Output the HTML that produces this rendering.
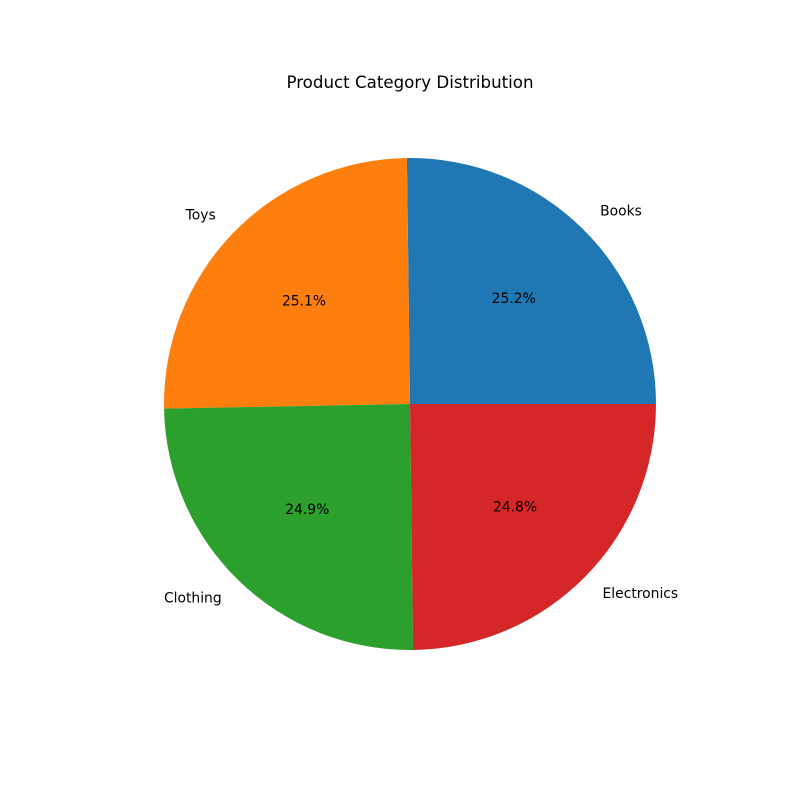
<!DOCTYPE html>
<html>
<head>
<meta charset="utf-8">
<style>
  html, body { margin: 0; padding: 0; background: #fff; }
  svg { display: block; font-family: "DejaVu Sans", "Liberation Sans", sans-serif; }
</style>
</head>
<body>
<svg id="chart" width="800" height="800" viewBox="0 0 800 800">
  <rect width="800" height="800" fill="#ffffff"></rect>
  <text x="410" y="88" text-anchor="middle" font-size="16.67" fill="#000">Product Category Distribution</text>
  <g id="slices"></g>
  <g id="labels"></g>
</svg>
<script>
const categories = ["Books", "Toys", "Clothing", "Electronics"];
const values = [25.2, 25.1, 24.9, 24.8];
const colors = ["#1f77b4", "#ff7f0e", "#2ca02c", "#d62728"];

const cx = 410, cy = 404, r = 246;
const NS = "http://www.w3.org/2000/svg";
const sliceG = document.getElementById("slices");
const labelG = document.getElementById("labels");
const total = values.reduce((a, b) => a + b, 0);
let start = 0;
function pt(angDeg, rad) {
  const a = angDeg * Math.PI / 180;
  return [cx + rad * Math.cos(a), cy - rad * Math.sin(a)];
}
values.forEach((v, i) => {
  const sweep = v / total * 360;
  const end = start + sweep;
  const [x1, y1] = pt(start, r);
  const [x2, y2] = pt(end, r);
  const large = sweep > 180 ? 1 : 0;
  const path = document.createElementNS(NS, "path");
  path.setAttribute("d", `M${cx},${cy} L${x1},${y1} A${r},${r} 0 ${large} 0 ${x2},${y2} Z`);
  path.setAttribute("fill", colors[i]);
  
  
  sliceG.appendChild(path);

  const mid = start + sweep / 2;
  const [lx, ly] = pt(mid, r * 1.1);
  const lab = document.createElementNS(NS, "text");
  lab.setAttribute("x", lx);
  lab.setAttribute("y", ly);
  lab.setAttribute("font-size", "13.89");
  lab.setAttribute("dominant-baseline", "central");
  lab.setAttribute("text-anchor", lx < cx ? "end" : "start");
  lab.textContent = categories[i];
  
  
  labelG.appendChild(lab);

  const [px, py] = pt(mid, r * 0.6);
  const pct = document.createElementNS(NS, "text");
  pct.setAttribute("x", px);
  pct.setAttribute("y", py);
  pct.setAttribute("font-size", "13.89");
  pct.setAttribute("dominant-baseline", "central");
  pct.setAttribute("text-anchor", "middle");
  pct.textContent = (v / total * 100).toFixed(1) + "%";
  
  
  labelG.appendChild(pct);

  start = end;
});
</script>
</body>
</html>
